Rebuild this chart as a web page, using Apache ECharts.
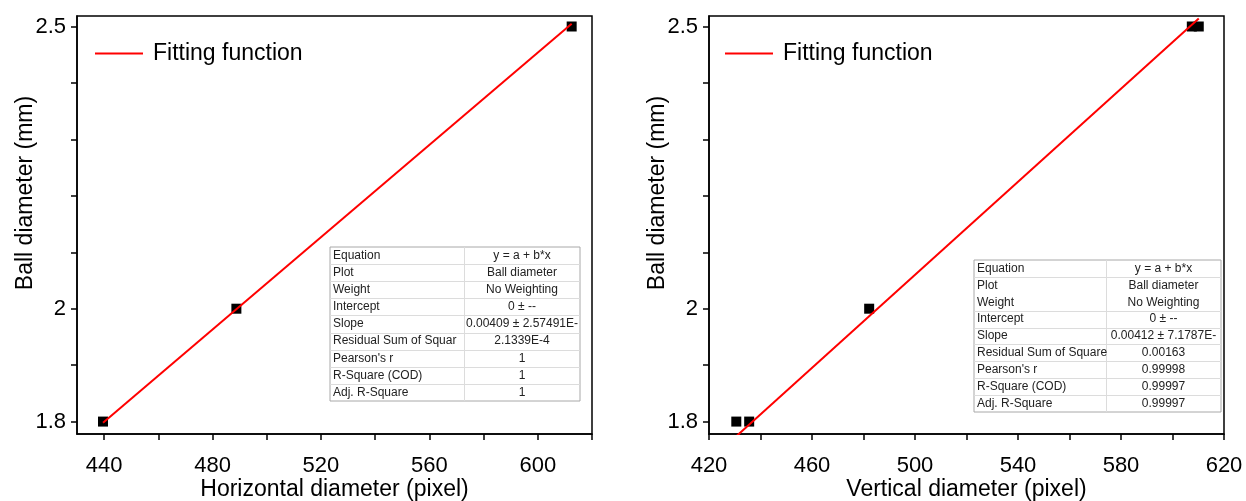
<!DOCTYPE html>
<html>
<head>
<meta charset="utf-8">
<script src="https://cdn.jsdelivr.net/npm/echarts@6/dist/echarts.min.js"></script>
<style>
html,body{margin:0;padding:0;background:#fff;}
#chart{width:1246px;height:501px;}
</style>
</head>
<body>
<div id="chart"></div>
<script>
// ---- Data ----
const leftX = [439.6, 488.8, 612.5];
const leftY = [1.8, 2.0, 2.5];
const rightX = [430.6, 435.6, 482.2, 607.5, 610.2];
const rightY = [1.8, 1.8, 2.0, 2.5, 2.5];
const fitLeftX = [439.6, 612.5];
const fitLeftY = [1.798, 2.505];
const fitRightX = [430.6, 610.2];
const fitRightY = [1.774, 2.514];

const leftXTicks = [440, 460, 480, 500, 520, 540, 560, 580, 600, 620];
const leftXLabels = [440, 480, 520, 560, 600];
const rightXTicks = [420, 440, 460, 480, 500, 520, 540, 560, 580, 600, 620];
const rightXLabels = [420, 460, 500, 540, 580, 620];
const yTicks = [1.8, 1.9, 2.0, 2.1, 2.2, 2.3, 2.4, 2.5];
const yLabels = [1.8, 2.0, 2.5];

const tableLabelsLeft = ['Equation', 'Plot', 'Weight', 'Intercept', 'Slope', 'Residual Sum of Squar', "Pearson's r", 'R-Square (COD)', 'Adj. R-Square'];
const tableValuesLeft = ['y = a + b*x', 'Ball diameter', 'No Weighting', '0 ± --', '0.00409 ± 2.57491E-', '2.1339E-4', '1', '1', '1'];
const tableLabelsRight = ['Equation', 'Plot', 'Weight', 'Intercept', 'Slope', 'Residual Sum of Square', "Pearson's r", 'R-Square (COD)', 'Adj. R-Square'];
const tableValuesRight = ['y = a + b*x', 'Ball diameter', 'No Weighting', '0 ± --', '0.00412 ± 7.1787E-', '0.00163', '0.99998', '0.99997', '0.99997'];

const FONT = '"Liberation Sans", Arial, sans-serif';

function pairs(xs, ys) { return xs.map((x, i) => [x, ys[i]]); }

function xAxisCfg(gi, min, max, ticks, labels, name) {
  return {
    type: 'value', gridIndex: gi, min: min, max: max,
    axisLine: { show: true, onZero: false, lineStyle: { color: '#000', width: 1.5 } },
    axisTick: { show: true, inside: false, length: 6, customValues: ticks, lineStyle: { color: '#000', width: 1.5 } },
    axisLabel: { customValues: labels, fontSize: 22, color: '#000', fontFamily: FONT, margin: 21 },
    splitLine: { show: false },
    name: name, nameLocation: 'middle', nameGap: 44, nameMoveOverlap: false,
    nameTextStyle: { fontSize: 23, color: '#000', fontFamily: FONT }
  };
}
function yAxisCfg(gi) {
  return {
    type: 'value', gridIndex: gi, min: 1.778, max: 2.5186,
    axisLine: { show: true, onZero: false, lineStyle: { color: '#000', width: 1.5 } },
    axisTick: { show: true, inside: false, length: 6, customValues: yTicks, lineStyle: { color: '#000', width: 1.5 } },
    axisLabel: { customValues: yLabels, fontSize: 22, color: '#000', fontFamily: FONT, margin: 11,
      formatter: v => String(Math.round(v * 10) / 10) },
    splitLine: { show: false },
    name: 'Ball diameter (mm)', nameLocation: 'middle', nameGap: 40, nameRotate: 90, nameMoveOverlap: false,
    nameTextStyle: { fontSize: 23, color: '#000', fontFamily: FONT, padding: [0, 0, 0, 64] }
  };
}

function tableGraphic(x0, y0, w, h, colX, labels, values, skipLines) {
  const els = [];
  const n = labels.length;
  const rh = h / n;
  els.push({ type: 'rect', shape: { x: x0, y: y0, width: w, height: h }, style: { fill: '#fff', stroke: '#a8a8a8', lineWidth: 1 }, z: 100 });
  for (let i = 1; i < n; i++) {
    if (skipLines.indexOf(i) >= 0) continue;
    const yy = Math.round(y0 + i * rh) + 0.5;
    els.push({ type: 'line', shape: { x1: x0, y1: yy, x2: x0 + w, y2: yy }, style: { stroke: '#dcdcdc', lineWidth: 1 }, z: 101 });
  }
  els.push({ type: 'line', shape: { x1: colX + 0.5, y1: y0, x2: colX + 0.5, y2: y0 + h }, style: { stroke: '#dcdcdc', lineWidth: 1 }, z: 101 });
  for (let i = 0; i < n; i++) {
    const cy = y0 + (i + 0.5) * rh;
    els.push({ type: 'text', z: 102, style: { text: labels[i], x: x0 + 3, y: cy, font: '12px ' + FONT, fill: '#222', align: 'left', verticalAlign: 'middle' } });
    els.push({ type: 'text', z: 102, style: { text: values[i], x: (colX + x0 + w) / 2, y: cy, font: '12px ' + FONT, fill: '#222', align: 'center', verticalAlign: 'middle' } });
  }
  return els;
}

const legendCommon = {
  top: 42, padding: 0, itemWidth: 48, itemHeight: 2, icon: 'rect', data: ['Fitting function'],
  textStyle: { fontSize: 23, color: '#000', fontFamily: FONT, padding: [0, 0, 0, 5] }
};

const chart = echarts.init(document.getElementById('chart'), null, { renderer: 'canvas' });
const option = {
  backgroundColor: '#fff',
  animation: false,
  textStyle: { fontFamily: FONT },
  grid: [
    { left: 77, right: 654, top: 16, bottom: 67, show: true, borderColor: '#000', borderWidth: 1.5, containLabel: false, outerBoundsMode: 'none' },
    { left: 709, right: 22, top: 16, bottom: 67, show: true, borderColor: '#000', borderWidth: 1.5, containLabel: false, outerBoundsMode: 'none' }
  ],
  xAxis: [
    xAxisCfg(0, 430, 620, leftXTicks, leftXLabels, 'Horizontal diameter (pixel)'),
    xAxisCfg(1, 420, 620, rightXTicks, rightXLabels, 'Vertical diameter (pixel)')
  ],
  yAxis: [yAxisCfg(0), yAxisCfg(1)],
  legend: [
    Object.assign({ left: 95 }, legendCommon),
    Object.assign({ left: 725 }, legendCommon)
  ],
  series: [
    { name: 'Ball diameter', type: 'scatter', xAxisIndex: 0, yAxisIndex: 0, symbol: 'rect', symbolSize: 10,
      itemStyle: { color: '#000', opacity: 1 }, data: pairs(leftX, leftY), z: 3 },
    { name: 'Fitting function', type: 'line', xAxisIndex: 0, yAxisIndex: 0, symbol: 'none', clip: true,
      lineStyle: { color: '#ff0000', width: 2 }, itemStyle: { color: '#ff0000' }, data: pairs(fitLeftX, fitLeftY), z: 4 },
    { name: 'Ball diameter', type: 'scatter', xAxisIndex: 1, yAxisIndex: 1, symbol: 'rect', symbolSize: 10,
      itemStyle: { color: '#000', opacity: 1 }, data: pairs(rightX, rightY), z: 3 },
    { name: 'Fitting function', type: 'line', xAxisIndex: 1, yAxisIndex: 1, symbol: 'none', clip: true,
      lineStyle: { color: '#ff0000', width: 2 }, itemStyle: { color: '#ff0000' }, data: pairs(fitRightX, fitRightY), z: 4 }
  ],
  graphic: [].concat(
    tableGraphic(330, 247, 250, 154, 464, tableLabelsLeft, tableValuesLeft, []),
    tableGraphic(974, 260, 247, 152, 1106, tableLabelsRight, tableValuesRight, [2])
  )
};
chart.setOption(option);
</script>
</body>
</html>
